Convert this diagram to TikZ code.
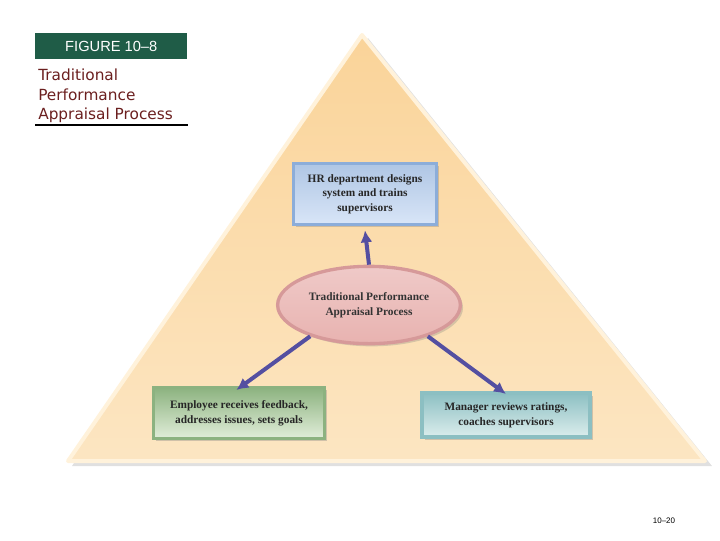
\documentclass[tikz,border=0pt]{standalone}
\usepackage{fontspec}
\setmainfont{Liberation Serif}
\newfontfamily\capfont{DejaVu Sans}
\newfontfamily\headfont{Liberation Sans}
\definecolor{header green}{rgb}{0.12, 0.36, 0.28}
\definecolor{title red}{rgb}{0.42, 0.12, 0.12}
\definecolor{peach}{rgb}{0.98, 0.83, 0.60}
\definecolor{peach light}{rgb}{0.99, 0.90, 0.76}
\definecolor{cream}{rgb}{1.0, 0.95, 0.86}
\definecolor{arrow blue}{rgb}{0.33, 0.31, 0.63}
\definecolor{hr blue}{rgb}{0.55, 0.68, 0.85}
\definecolor{hr light}{rgb}{0.85, 0.90, 0.97}
\definecolor{rose}{rgb}{0.91, 0.70, 0.69}
\definecolor{rose dark}{rgb}{0.80, 0.50, 0.50}
\definecolor{sage}{rgb}{0.55, 0.70, 0.50}
\definecolor{sage light}{rgb}{0.88, 0.93, 0.85}
\definecolor{teal box}{rgb}{0.55, 0.75, 0.76}
\definecolor{teal light}{rgb}{0.86, 0.93, 0.93}
\usepackage{tikz}
\usetikzlibrary{arrows.meta,shadows,shapes.geometric}

\begin{document}
\begin{tikzpicture}[x=0.75pt,y=-0.75pt,
	box/.style={minimum width=#1, align=center, font=\fontsize{8.5}{11}\selectfont\bfseries, text=black!85, line width=2.5pt, drop shadow={shadow xshift=2pt, shadow yshift=-2pt, opacity=0.35}},
	flow/.style={arrow blue, line width=3pt, -{Latex[length=9pt,width=9pt]}}]
	\useasboundingbox (0,0) rectangle (720,540);
	\fill[black, opacity=0.12] (368,38) -- (712,466) -- (72,466) -- cycle;
	\shade[top color=peach, bottom color=peach light, draw=cream, line width=3pt, line join=round]
		(362,35) -- (705,461) -- (68,461) -- cycle;
	\node[fill=header green, text=white, font=\headfont\fontsize{11}{13}\selectfont, minimum width=114pt, minimum height=19.5pt, anchor=north west] (figure) at (35,33) {FIGURE 10–8};
	\node[text=title red, font=\capfont\fontsize{11.5}{14.6}\selectfont, align=left, anchor=north west, inner sep=0pt] (caption) at (38,69) {Traditional\\Performance\\Appraisal Process};
	\coordinate (rule left) at (35,125);
	\coordinate (rule right) at (188,125);
	\draw[black, line width=0.8pt] (rule left) -- (rule right);
	\node[box=107pt, minimum height=46pt, draw=hr blue, top color=hr blue!70, bottom color=hr light] (hr) at (365,194) {HR department designs\\system and trains\\supervisors};
	\node[ellipse, draw=rose dark!80, line width=2.5pt, top color=rose!70!white, bottom color=rose, minimum width=122pt, minimum height=58pt, font=\fontsize{8.5}{11}\selectfont\bfseries, align=center, text=black!80, drop shadow={shadow xshift=2pt, shadow yshift=-2pt, opacity=0.3}] (process) at (369,305) {Traditional Performance\\Appraisal Process};
	\node[box=128pt, minimum height=38pt, draw=sage, top color=sage, bottom color=sage light] (employee) at (239,413) {Employee receives feedback,\\addresses issues, sets goals};
	\node[box=126pt, minimum height=33pt, draw=teal box, top color=teal box, bottom color=teal light] (manager) at (506,415) {Manager reviews ratings,\\coaches supervisors};
	\draw[flow] (process.north) -- ([yshift=-3pt]hr.south);
	\draw[flow] (process.-152) -- ([xshift=-2pt,yshift=-3pt]employee.north);
	\draw[flow] (process.-28) -- ([yshift=-2pt]manager.north);
	\node[font=\headfont\fontsize{6}{7}\selectfont] (page) at (664,521) {10–20};
\end{tikzpicture}
\end{document}
